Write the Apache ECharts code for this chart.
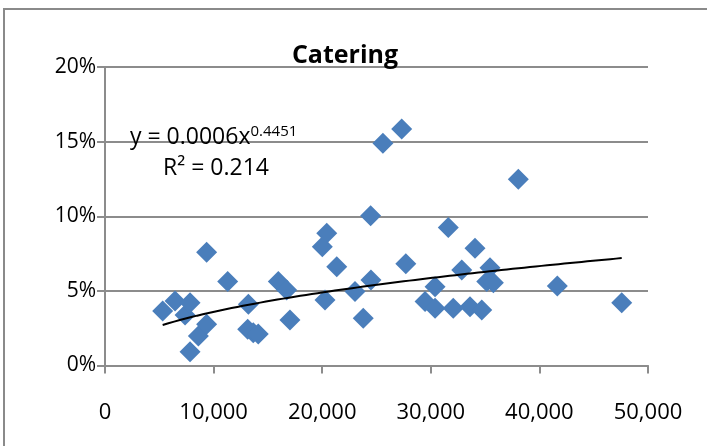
<!DOCTYPE html>
<html>
<head>
<meta charset="utf-8">
<script src="https://cdn.jsdelivr.net/npm/echarts@6/dist/echarts.min.js"></script>
<style>
html,body{margin:0;padding:0;background:#fff;}
#chart{width:707px;height:446px;}
</style>
</head>
<body>
<div id="chart"></div>
<script>
// x values and catering share (%)
const xValues = [5310, 6450, 7370, 7830, 7830, 8600, 9360, 9360, 11300, 13200,
  13140, 13650, 14110, 15960, 16730, 17030, 20010, 20420, 20260, 21340,
  23020, 23780, 24460, 24490, 25590, 27320, 27700, 29470, 30390, 30390,
  31610, 32070, 32850, 33610, 34070, 34690, 35450, 35150, 35760, 38060,
  41650, 47580];
const yPercent = [3.65, 4.32, 3.38, 4.21, 0.92, 1.98, 2.76, 7.59, 5.62, 4.10,
  2.43, 2.20, 2.11, 5.62, 5.06, 3.05, 7.96, 8.86, 4.39, 6.62,
  4.95, 3.16, 10.04, 5.73, 14.89, 15.85, 6.82, 4.28, 5.28, 3.83,
  9.24, 3.83, 6.40, 3.94, 7.86, 3.72, 6.55, 5.62, 5.55, 12.48,
  5.33, 4.21];
const yTicks = [0, 5, 10, 15, 20];
const xTicks = [0, 10000, 20000, 30000, 40000, 50000];
const chartTitle = 'Catering';
const equationMain = 'y = 0.0006x';
const equationExp = '0.4451';
const trendExponent = 0.4451;
const r2Text = 'R² = 0.214';

// power trendline: exponent from the reference's equation, coefficient fitted in log space
function powerFitFixedB(xs, ys, b) {
  let sx = 0, sy = 0;
  for (let i = 0; i < xs.length; i++) { sx += Math.log(xs[i]); sy += Math.log(ys[i]); }
  const n = xs.length;
  return { a: Math.exp((sy - b * sx) / n), b };
}
const fit = powerFitFixedB(xValues, yPercent, trendExponent);
const xMin = Math.min(...xValues), xMax = Math.max(...xValues);
const trend = [];
for (let i = 0; i <= 80; i++) {
  const x = xMin + (xMax - xMin) * i / 80;
  trend.push([x, fit.a * Math.pow(x, fit.b)]);
}

const points = xValues.map((x, i) => [x, yPercent[i]]);
const FONT = '"Open Sans", "Noto Sans", sans-serif';
const grey = '#8c8c8c';

const chart = echarts.init(document.getElementById('chart'), null, { renderer: 'canvas' });
chart.setOption({
  animation: false,
  backgroundColor: '#fff',
  grid: { left: 105, right: 59, top: 67, bottom: 80.5, containLabel: false },
  xAxis: {
    type: 'value', min: xTicks[0], max: xTicks[xTicks.length - 1], interval: xTicks[1] - xTicks[0],
    axisLine: { onZero: false, lineStyle: { color: grey, width: 2 } },
    axisTick: { show: true, inside: false, length: 8, lineStyle: { color: grey, width: 2 } },
    splitLine: { show: false },
    axisLabel: {
      margin: 36, color: '#000', fontFamily: FONT, fontSize: 22,
      formatter: v => v.toLocaleString('en-US')
    }
  },
  yAxis: {
    type: 'value', min: yTicks[0], max: yTicks[yTicks.length - 1], interval: yTicks[1] - yTicks[0],
    axisLine: { show: true, lineStyle: { color: grey, width: 2 } },
    axisTick: { show: true, inside: false, length: 8, lineStyle: { color: grey, width: 2 } },
    splitLine: { show: true, lineStyle: { color: grey, width: 2 } },
    axisLabel: { margin: 9, color: '#000', fontFamily: FONT, fontSize: 21, formatter: '{value}%' }
  },
  series: [
    {
      type: 'scatter', data: points, symbol: 'diamond', symbolSize: 21,
      itemStyle: { color: '#4a7ebb', opacity: 1 }, z: 3
    },
    {
      type: 'line', data: trend, showSymbol: false, symbol: 'none', smooth: false,
      lineStyle: { color: '#000', width: 2 }, z: 4
    }
  ],
  graphic: [
    {
      type: 'rect', shape: { x: 4, y: 9, width: 720, height: 460 },
      style: { fill: 'none', stroke: '#8a8a8a', lineWidth: 2 }, z: 0, silent: true
    },
    {
      type: 'text', x: 345, y: 56,
      style: { text: chartTitle, fontFamily: FONT, fontSize: 25, fontWeight: 'bold', fill: '#000',
        align: 'center', verticalAlign: 'middle' }, z: 10
    },
    {
      type: 'text', x: 130, y: 137,
      style: {
        text: '{m|' + equationMain + '}{s|' + equationExp + '}',
        verticalAlign: 'middle', align: 'left',
        rich: {
          m: { fontFamily: FONT, fontSize: 23, fill: '#000', color: '#000', lineHeight: 26 },
          s: { fontFamily: FONT, fontSize: 15, fill: '#000', color: '#000', verticalAlign: 'top', lineHeight: 26, padding: [0, 0, 8, 0] }
        }
      }, z: 10
    },
    {
      type: 'text', x: 163, y: 168,
      style: { text: r2Text, fontFamily: FONT, fontSize: 23, fill: '#000', align: 'left', verticalAlign: 'middle' }, z: 10
    }
  ]
});
</script>
</body>
</html>
